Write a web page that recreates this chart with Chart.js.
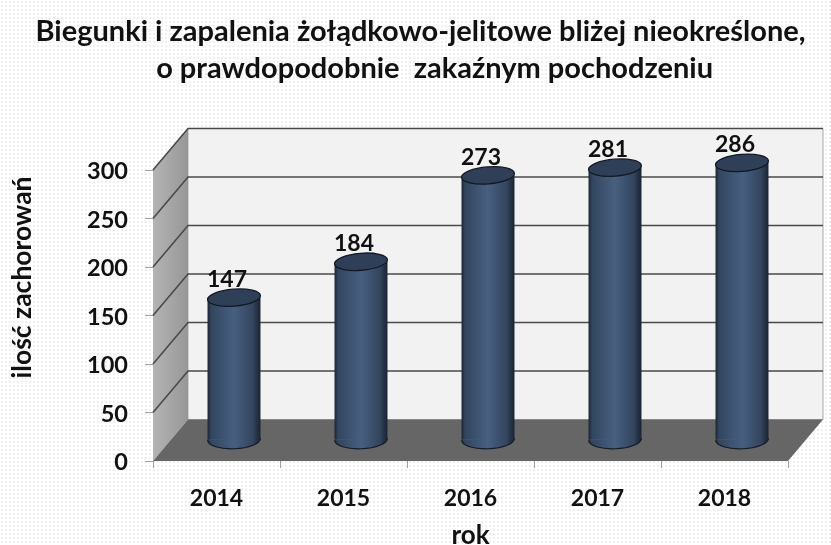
<!DOCTYPE html>
<html><head><meta charset="utf-8">
<script src="https://cdn.jsdelivr.net/npm/chart.js@4"></script>
<style>
html,body{margin:0;padding:0;width:831px;height:545px;overflow:hidden;background-color:#fff;
background-image:radial-gradient(circle,#efefef 0.9px,transparent 1.1px);background-size:4px 4px}
#w{position:absolute;left:0;top:0;width:831px;height:545px}
canvas{filter:blur(0.45px)}
</style></head><body><div id="w"><canvas id="c" width="831" height="545"></canvas></div>
<script>
const categories = ['2014','2015','2016','2017','2018'];
const values = [147,184,273,281,286];
const titleLines = ['Biegunki i zapalenia żołądkowo-jelitowe bliżej nieokreślone,','    o prawdopodobnie  zakaźnym pochodzeniu'];
const yTitle = 'ilość zachorowań ';
const xTitle = 'rok';
const yMax = 300, yStep = 50;
const DX = 35, DY = -41.5;
const FONT = 'Lato, "Open Sans", sans-serif';

function ell(ctx,x,y,rx,ry,rot,a0,a1){ctx.beginPath();ctx.ellipse(x,y,rx,ry,rot,a0===undefined?0:a0,a1===undefined?Math.PI*2:a1);}
function barGrad(ctx,x,w){
  const g=ctx.createLinearGradient(x-w/2,0,x+w/2,0);
  g.addColorStop(0,'#1c2535');g.addColorStop(0.07,'#33465f');g.addColorStop(0.5,'#475f80');
  g.addColorStop(0.85,'#34465f');g.addColorStop(1,'#1a2231');return g;
}
const scene = {
  id:'scene',
  afterLayout(chart){ if(chart.titleBlock){chart.titleBlock.left=10;chart.titleBlock.right=831;} },
  beforeDatasetsDraw(chart){
    const {ctx,chartArea:a,scales:{y}}=chart;
    const L=a.left,R=a.right,T=a.top,B=a.bottom;
    ctx.save();
    ctx.fillStyle='#f2f2f2';ctx.strokeStyle='#a8a8a8';ctx.lineWidth=1;
    ctx.beginPath();ctx.rect(L+DX,T+DY,R-L,B-T);ctx.fill();ctx.stroke();
    const g=ctx.createLinearGradient(L,0,L+DX,0);g.addColorStop(0,'#b4b4b4');g.addColorStop(1,'#979797');
    ctx.fillStyle=g;ctx.beginPath();ctx.moveTo(L,T);ctx.lineTo(L+DX,T+DY);ctx.lineTo(L+DX,B+DY);ctx.lineTo(L,B);ctx.closePath();ctx.fill();
    ctx.fillStyle='#666666';ctx.beginPath();ctx.moveTo(L,B);ctx.lineTo(L+DX,B+DY);ctx.lineTo(R+DX,B+DY);ctx.lineTo(R,B);ctx.closePath();ctx.fill();
    ctx.strokeStyle='#4a4a4a';ctx.lineWidth=1.6;
    y.ticks.forEach(t=>{
      if(t.value===0)return;
      const p=y.getPixelForValue(t.value);
      ctx.beginPath();ctx.moveTo(L,p);ctx.lineTo(L+DX,p+DY);ctx.lineTo(R+DX,p+DY);ctx.stroke();
    });
    ctx.restore();
  },
  beforeDatasetDraw(chart){
    const {ctx,scales:{y}}=chart;
    const bars=chart.getDatasetMeta(0).data;
    ctx.save();
    bars.forEach(b=>{
      const cx=b.x+DX/2,cy=y.getPixelForValue(0)+DY/2,w=b.width;
      ctx.fillStyle=barGrad(ctx,cx,w);ctx.strokeStyle='#141b28';ctx.lineWidth=1.2;
      ell(ctx,cx,cy-1,w/2,9.5,-0.04,0,Math.PI);ctx.fill();ctx.stroke();
    });
    ctx.restore();
    ctx.save();ctx.translate(DX/2,DY/2);
  },
  afterDatasetDraw(chart){
    const {ctx}=chart;
    ctx.restore();
    const bars=chart.getDatasetMeta(0).data;
    ctx.save();
    bars.forEach((b,i)=>{
      const cx=b.x+DX/2,cy=b.y+DY/2,w=b.width;
      ctx.fillStyle='#2f3f57';ctx.strokeStyle='#121925';ctx.lineWidth=1.3;
      ell(ctx,cx,cy,w/2,8.5,-0.08);ctx.fill();ctx.stroke();
      ctx.fillStyle='#111';ctx.font='bold 23px '+FONT;ctx.textAlign='center';ctx.textBaseline='middle';
      ctx.fillText(String(values[i]),cx-7,cy-18);
    });
    ctx.restore();
  }
};
new Chart(document.getElementById('c'),{
  type:'bar',
  data:{labels:categories,datasets:[{data:values,
    backgroundColor(c){
      const ch=c.chart;const xs=ch.scales.x;
      if(!xs||c.dataIndex===undefined)return '#3a4f70';
      const w=(xs.width/categories.length)*0.417;
      const px=xs.getPixelForValue(c.dataIndex);
      if(!isFinite(px)||!isFinite(w))return '#3a4f70';
      return barGrad(ch.ctx,px,w);
    },
    borderWidth:0,categoryPercentage:1,barPercentage:0.417,clip:false}]},
  plugins:[scene],
  options:{
    responsive:false,animation:false,devicePixelRatio:1,
    layout:{padding:{left:7,right:43,top:0,bottom:0}},
    plugins:{
      legend:{display:false},tooltip:{enabled:false},
      title:{display:true,text:titleLines,color:'#111',align:'center',
        font:{family:FONT,size:29,weight:'bold',lineHeight:1.276},padding:{top:13,bottom:83}}
    },
    scales:{
      x:{
        afterFit(s){s.height=84;},
        grid:{drawOnChartArea:false,drawTicks:true,tickLength:7,color:'#a0a0a0',offset:true},
        border:{display:false},
        ticks:{padding:17,color:'#111',font:{family:FONT,size:23,weight:'bold'},maxRotation:0},
        title:{display:true,text:xTitle,color:'#111',font:{family:FONT,size:26,weight:'bold',lineHeight:1},padding:{top:8,bottom:-4}}
      },
      y:{
        min:0,max:yMax,
        afterFit(s){s.width=146;},
        grid:{drawOnChartArea:false,drawTicks:true,tickLength:8,color:'#a0a0a0'},
        border:{display:false},
        ticks:{stepSize:yStep,padding:17,labelOffset:1.5,color:'#111',font:{family:FONT,size:23.5,weight:'bold'}},
        title:{display:true,text:yTitle,align:'end',color:'#111',font:{family:FONT,size:26.5,weight:'bold'},padding:{top:0,bottom:0}}
      }
    }
  }
});
</script></body></html>
